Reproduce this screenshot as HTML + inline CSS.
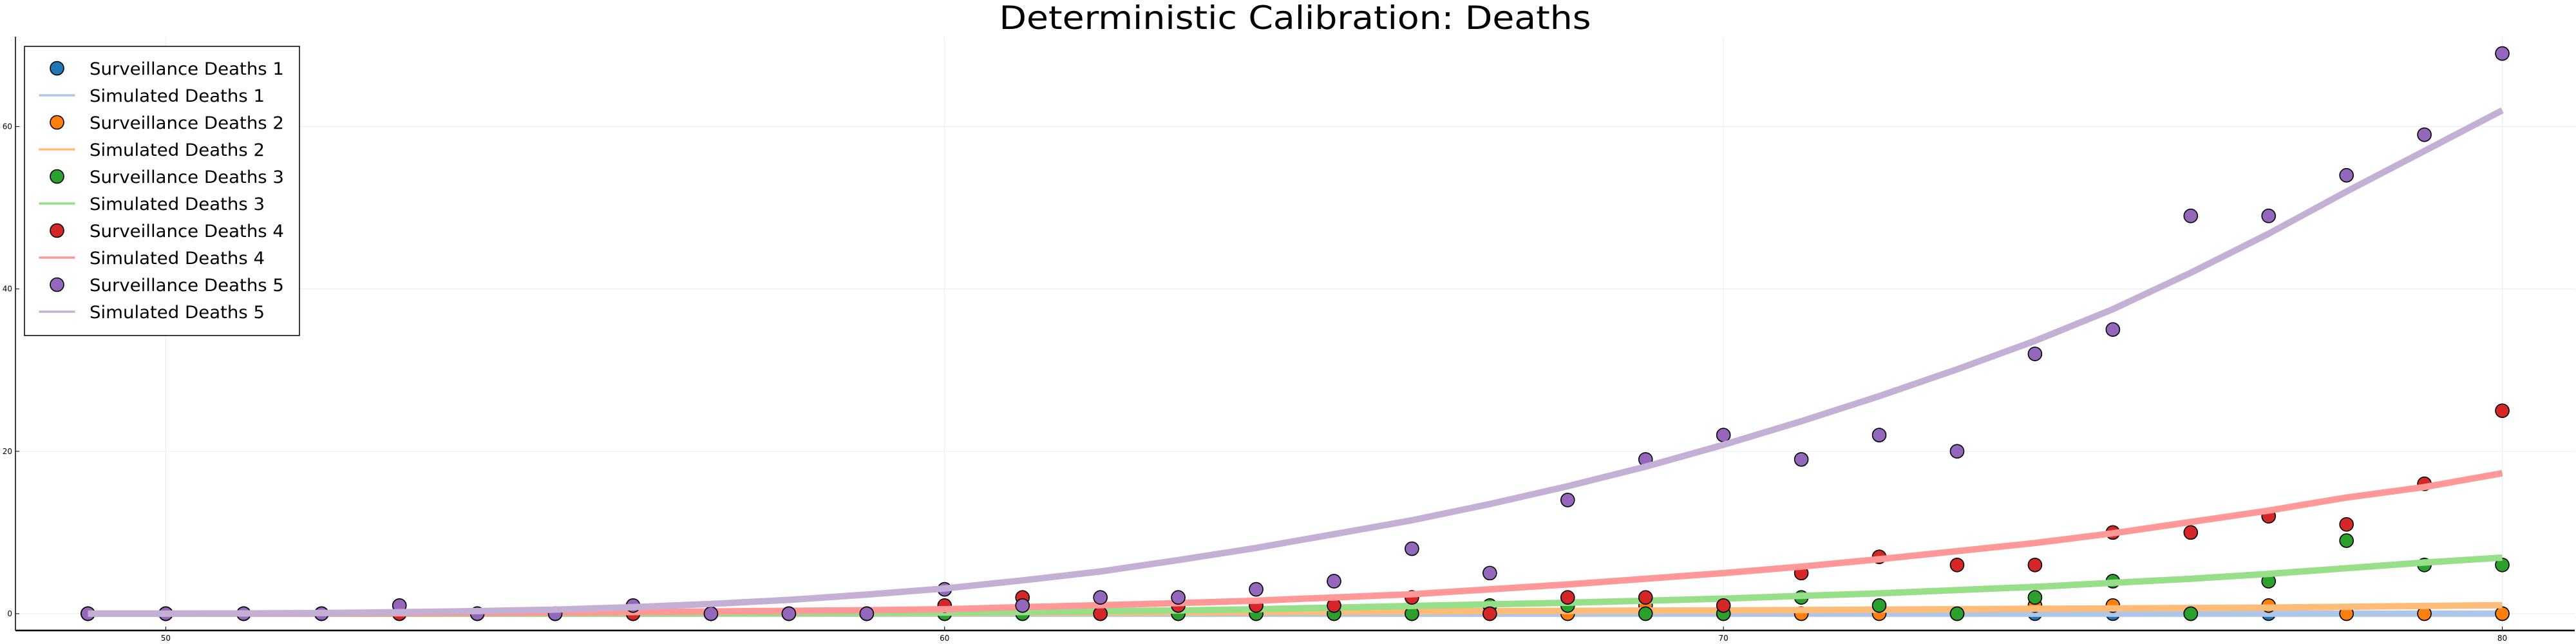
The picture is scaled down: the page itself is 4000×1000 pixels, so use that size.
<!DOCTYPE html>
<html><head><meta charset="utf-8">
<style>
html,body{margin:0;padding:0;background:#fff;}
svg{display:block;font-family:"DejaVu Sans","Liberation Sans",sans-serif;}
</style></head>
<body>
<svg id="chart" width="4000" height="1000" viewBox="0 0 4000 1000" xmlns="http://www.w3.org/2000/svg">
<rect x="0" y="0" width="4000" height="1000" fill="#fff"/>
<text x="2011" y="45" text-anchor="middle" font-size="50" textLength="919" lengthAdjust="spacingAndGlyphs">Deterministic Calibration: Deaths</text>
<g id="grid"></g>
<g id="series"></g>
<g id="axes"></g>
<g id="legend"></g>
</svg>
<script>
const days = [49,50,51,52,53,54,55,56,57,58,59,60,61,62,63,64,65,66,67,68,69,70,71,72,73,74,75,76,77,78,79,80];
const obs1 = [0,0,0,0,0,0,0,0,0,0,0,0,0,0,0,0,0,0,0,0,0,0,0,0,0,0,0,0,0,0,0,0];
const obs2 = [0,0,0,0,0,0,0,0,0,0,0,0,0,0,0,0,0,0,0,0,1,0,0,0,0,1,1,0,1,0,0,0];
const obs3 = [0,0,0,0,0,0,0,0,0,0,0,0,0,0,0,0,0,0,1,1,0,0,2,1,0,2,4,0,4,9,6,6];
const obs4 = [0,0,0,0,0,0,0,0,0,0,0,1,2,0,1,1,1,2,0,2,2,1,5,7,6,6,10,10,12,11,16,25];
const obs5 = [0,0,0,0,1,0,0,1,0,0,0,3,1,2,2,3,4,8,5,14,19,22,19,22,20,32,35,49,49,54,59,69];
const sim1 = [0,0,0,0,0,0,0,0,0,0,0,0,0,0,0,0,0,0,0,0,0,0,0,0,0,0,0,0,0,0,0,0];
const sim2 = [0,0,0,0,0,0,0,0,0.02,0.03,0.05,0.07,0.1,0.13,0.16,0.2,0.24,0.28,0.32,0.35,0.38,0.4,0.45,0.5,0.55,0.6,0.65,0.7,0.75,0.85,0.95,1.05];
const sim3 = [0,0,0,0,0,0,0,0.02,0.04,0.06,0.09,0.13,0.2,0.3,0.4,0.55,0.75,0.95,1.15,1.35,1.6,1.85,2.2,2.5,2.9,3.3,3.8,4.3,4.9,5.6,6.3,6.9];
const sim4 = [0,0,0,0.02,0.05,0.08,0.13,0.2,0.27,0.35,0.43,0.55,0.8,1.05,1.3,1.6,2.0,2.4,3.0,3.6,4.3,5.0,5.8,6.7,7.7,8.7,9.9,11.3,12.7,14.3,15.6,17.3];
const sim5 = [0,0,0.03,0.08,0.18,0.32,0.5,0.8,1.2,1.7,2.35,3.1,4.1,5.2,6.6,8.1,9.8,11.5,13.5,15.7,18.1,20.8,23.7,26.8,30.1,33.6,37.5,42,46.8,52,57,62];
const xTicks = [50,60,70,80];
const yTicks = [0,20,40,60];
const seriesNames = ["1","2","3","4","5"];

const NS = "http://www.w3.org/2000/svg";
const L = 24, R = 3998, T = 57, B = 979;
const xMin = 48.07, xMax = 80.93, yMin = -2.07, yMax = 71.07;
function xs(v){ return L + (v - xMin) / (xMax - xMin) * (R - L); }
function ys(v){ return B - (v - yMin) / (yMax - yMin) * (B - T); }
function mk(tag, attrs, parent){
  const e = document.createElementNS(NS, tag);
  for (const k in attrs) e.setAttribute(k, attrs[k]);
  parent.appendChild(e); return e;
}
const grid = document.getElementById('grid');
const axes = document.getElementById('axes');
const series = document.getElementById('series');
const legend = document.getElementById('legend');

xTicks.forEach(t => {
  const g = mk('line', {x1: xs(t), x2: xs(t), y1: T, y2: B, stroke: '#ebebeb', 'stroke-width': 1}, grid);
  
  
  const tk = mk('line', {x1: xs(t), x2: xs(t), y1: B, y2: B - 6, stroke: '#000', 'stroke-width': 1}, axes);
  
  
  const lb = mk('text', {x: xs(t), y: B + 16, 'text-anchor': 'middle', 'font-size': 12}, axes);
  lb.textContent = t;
  
  
});
yTicks.forEach(t => {
  const g = mk('line', {x1: L, x2: R, y1: ys(t), y2: ys(t), stroke: '#ebebeb', 'stroke-width': 1}, grid);
  
  
  const tk = mk('line', {x1: L, x2: L + 6, y1: ys(t), y2: ys(t), stroke: '#000', 'stroke-width': 1}, axes);
  
  
  const lb = mk('text', {x: L - 5, y: ys(t) + 4, 'text-anchor': 'end', 'font-size': 12}, axes);
  lb.textContent = t;
  
  
});
const xa = mk('line', {x1: L, x2: R, y1: B, y2: B, stroke: '#000', 'stroke-width': 2.5}, axes);


const ya = mk('line', {x1: L, x2: L, y1: T, y2: B, stroke: '#000', 'stroke-width': 1.5}, axes);



const obsAll = [obs1, obs2, obs3, obs4, obs5];
const simAll = [sim1, sim2, sim3, sim4, sim5];
const mColors = ['#1f77b4','#ff7f0e','#2ca02c','#d62728','#9467bd'];
const lColors = ['#aec7e8','#ffbb78','#98df8a','#ff9896','#c5b0d5'];

for (let s = 0; s < 5; s++) {
  const gm = mk('g', {}, series);
  
  
  obsAll[s].forEach((v, i) => {
    const c = mk('circle', {cx: xs(days[i]), cy: ys(v), r: 10.5, fill: mColors[s], stroke: '#000', 'stroke-width': 1.6}, gm);
    
    
  });
  const d = simAll[s].map((v, i) => (i ? 'L' : 'M') + xs(days[i]).toFixed(1) + ',' + ys(v).toFixed(1)).join(' ');
  const p = mk('path', {d: d, fill: 'none', stroke: lColors[s], 'stroke-width': 10, 'stroke-linejoin': 'round'}, series);
  
  
}

const box = mk('rect', {x: 38, y: 72, width: 427, height: 449, fill: '#fff', stroke: '#000', 'stroke-width': 1.5}, legend);


for (let s = 0; s < 5; s++) {
  const y1 = 106 + s * 84, y2 = y1 + 42;
  const e1 = mk('g', {}, legend);
  
  
  mk('circle', {cx: 88.5, cy: y1, r: 10.5, fill: mColors[s], stroke: '#000', 'stroke-width': 1.6}, e1);
  const t1 = mk('text', {x: 139, y: y1 + 10, 'font-size': 26.5, textLength: 302, lengthAdjust: 'spacingAndGlyphs'}, e1);
  t1.textContent = 'Surveillance Deaths ' + seriesNames[s];
  const e2 = mk('g', {}, legend);
  
  
  mk('line', {x1: 60.5, x2: 116.5, y1: y2, y2: y2, stroke: lColors[s], 'stroke-width': 3.5}, e2);
  const t2 = mk('text', {x: 139, y: y2 + 10, 'font-size': 26.5, textLength: 272, lengthAdjust: 'spacingAndGlyphs'}, e2);
  t2.textContent = 'Simulated Deaths ' + seriesNames[s];
}
</script>
</body></html>
